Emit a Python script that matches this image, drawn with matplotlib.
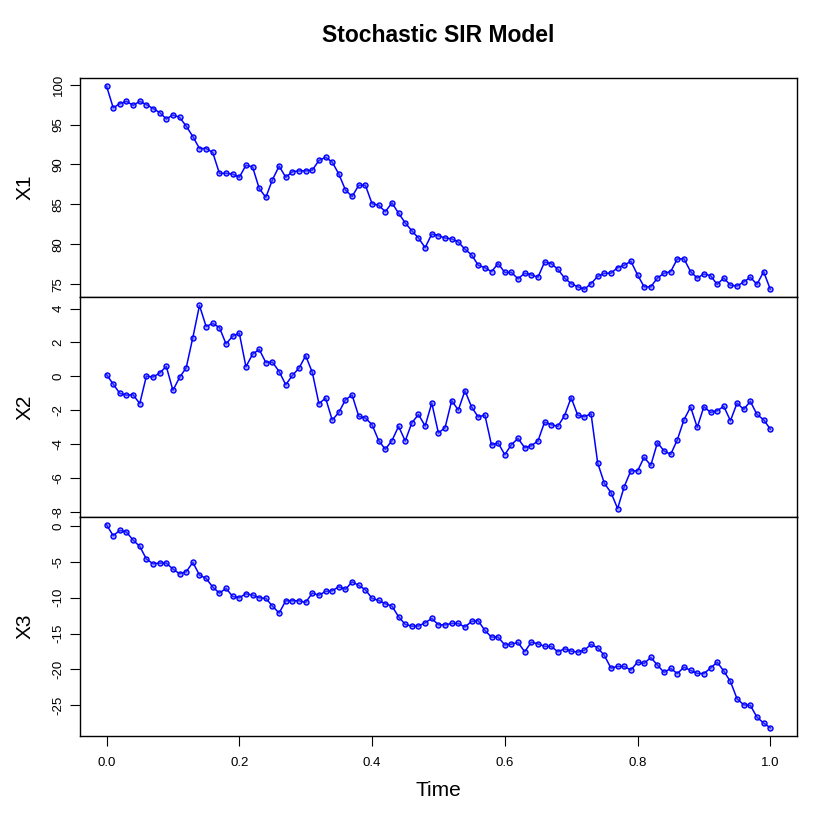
import matplotlib.pyplot as plt
import numpy as np

plt.rcParams['font.family'] = ['Liberation Sans', 'DejaVu Sans']

# Time grid: 101 points from 0 to 1
time = np.linspace(0, 1, 101)

x1 = [99.8, 97.1, 97.6, 97.9, 97.4, 97.9, 97.5, 97.0, 96.5, 95.7,
      96.2, 95.9, 94.8, 93.5, 92.0, 92.0, 91.5, 88.9, 88.9, 88.8,
      88.4, 89.9, 89.7, 87.0, 85.9, 88.1, 89.8, 88.4, 89.1, 89.2,
      89.2, 89.3, 90.5, 90.9, 90.3, 88.8, 86.8, 86.0, 87.4, 87.4,
      85.1, 84.9, 84.1, 85.2, 83.9, 82.7, 81.7, 80.8, 79.6, 81.3,
      81.1, 80.8, 80.7, 80.3, 79.4, 78.7, 77.4, 77.1, 76.6, 77.6,
      76.5, 76.5, 75.7, 76.4, 76.2, 75.9, 77.8, 77.6, 76.9, 75.8,
      75.1, 74.7, 74.4, 75.1, 76.0, 76.4, 76.4, 77.1, 77.4, 77.9,
      76.2, 74.7, 74.7, 75.8, 76.4, 76.6, 78.2, 78.2, 76.6, 75.8,
      76.3, 76.1, 75.0, 75.8, 74.9, 74.8, 75.3, 75.9, 75.0, 76.6,
      74.4]

x2 = [0.10, -0.45, -1.00, -1.10, -1.08, -1.60, 0.02, -0.04, 0.20, 0.59,
      -0.82, -0.06, 0.51, 2.29, 4.18, 2.94, 3.12, 2.88, 1.92, 2.37,
      2.55, 0.57, 1.31, 1.59, 0.82, 0.84, 0.29, -0.49, 0.06, 0.49,
      1.22, 0.24, -1.61, -1.27, -2.57, -2.12, -1.37, -1.10, -2.35, -2.45,
      -2.84, -3.78, -4.29, -3.78, -2.94, -3.80, -2.73, -2.24, -2.92, -1.57,
      -3.33, -3.02, -1.43, -1.98, -0.84, -1.80, -2.39, -2.27, -4.04, -3.92,
      -4.61, -4.02, -3.65, -4.20, -4.08, -3.80, -2.69, -2.84, -2.94, -2.31,
      -1.25, -2.29, -2.37, -2.20, -5.10, -6.29, -6.84, -7.78, -6.49, -5.55,
      -5.57, -4.76, -5.24, -3.90, -4.39, -4.59, -3.73, -2.55, -1.80, -3.00,
      -1.78, -2.12, -2.02, -1.76, -2.61, -1.57, -1.94, -1.47, -2.24, -2.55,
      -3.10]

x3 = [0.18, -1.35, -0.60, -0.84, -1.96, -2.84, -4.60, -5.26, -5.17, -5.17,
      -6.00, -6.66, -6.38, -5.07, -6.84, -7.30, -8.52, -9.36, -8.70, -9.82,
      -10.00, -9.45, -9.64, -10.00, -10.10, -11.17, -12.15, -10.43, -10.43, -10.43,
      -10.66, -9.35, -9.66, -9.12, -9.03, -8.47, -8.84, -7.78, -8.29, -8.89,
      -10.10, -10.38, -10.85, -11.17, -12.66, -13.73, -13.97, -13.95, -13.50, -12.90,
      -13.78, -13.80, -13.59, -13.60, -14.10, -13.30, -13.22, -14.57, -15.50, -15.50,
      -16.60, -16.48, -16.25, -17.55, -16.20, -16.44, -16.80, -16.80, -17.55, -17.13,
      -17.46, -17.60, -17.32, -16.52, -17.00, -18.06, -19.83, -19.60, -19.60, -20.10,
      -19.00, -19.18, -18.34, -19.41, -20.43, -19.87, -20.60, -19.70, -20.15, -20.57,
      -20.60, -19.83, -19.00, -20.25, -21.70, -24.12, -24.95, -25.04, -26.68, -27.50,
      -28.17]

series = [x1, x2, x3]
names = ["X1", "X2", "X3"]
yticks = [np.arange(75, 101, 5), np.arange(-8, 5, 2), np.arange(-25, 1, 5)]

fig, axes = plt.subplots(3, 1, figsize=(8.3, 8.3), dpi=100, sharex=True)
fig.subplots_adjust(left=0.0964, right=0.960, top=0.906, bottom=0.1133, hspace=0)

for ax, y, name, ticks in zip(axes, series, names, yticks):
    ax.plot(time, y, color="#0000FF", linewidth=1.1, marker="o", markersize=3.6,
            markerfacecolor=(0.3, 0.3, 1.0, 0.5), markeredgecolor="#0000FF",
            markeredgewidth=1.0)
    lo, hi = min(y), max(y)
    pad = 0.04 * (hi - lo)
    ax.set_ylim(lo - pad, hi + pad)
    ax.set_xlim(-0.04, 1.04)
    ax.set_yticks(ticks)
    ax.set_yticklabels([str(t) for t in ticks], rotation=90, va="center", fontsize=9.5)
    ax.set_ylabel(name, fontsize=15, labelpad=13)
    ax.tick_params(axis="y", direction="out", length=7, width=0.8, pad=4)
    for s in ax.spines.values():
        s.set_linewidth(1.0)
        s.set_color("black")

for ax in axes[:2]:
    ax.tick_params(axis="x", bottom=False, labelbottom=False)

axes[2].set_xticks([0.0, 0.2, 0.4, 0.6, 0.8, 1.0])
axes[2].set_xticklabels(["0.0", "0.2", "0.4", "0.6", "0.8", "1.0"], fontsize=9.5)
axes[2].tick_params(axis="x", direction="out", length=7, width=0.8, pad=8)
axes[2].set_xlabel("Time", fontsize=15, labelpad=9)

fig.suptitle("Stochastic SIR Model", fontsize=16.5, fontweight="bold",
             x=0.528, y=0.957, va="center")

fig.savefig("out.png")
plt.close(fig)
